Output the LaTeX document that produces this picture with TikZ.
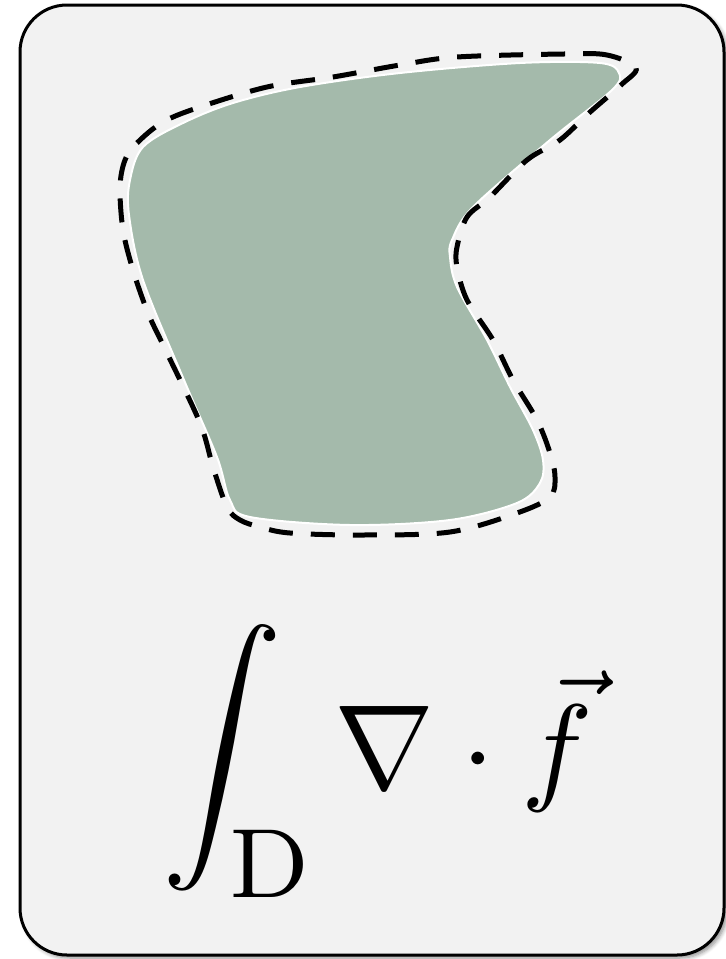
\documentclass[tikz,border=0pt]{standalone}
\usepackage{graphicx}
\usetikzlibrary{shadows.blur}
\definecolor{cardfill}{RGB}{242,242,242}
\definecolor{regiongreen}{RGB}{164,186,171}
\tikzset{
  card/.style={draw=black, line width=1.5pt, fill=cardfill, rounded corners=23.5pt,
    blur shadow={shadow xshift=1.5pt, shadow yshift=-1.5pt, shadow blur steps=6, shadow blur radius=2pt, shadow opacity=45}},
  region/.style={fill=regiongreen, draw=white, line width=1pt},
  boundary/.style={draw=black, line width=2.5pt, dash pattern=on 12pt off 9pt},
  formula/.style={inner sep=0pt, anchor=base west}
}
\begin{document}
\begin{tikzpicture}[x=0.5pt,y=-0.5pt]
\useasboundingbox (0,0) rectangle (726,959);
\path[card] (20,5) rectangle (724,955);
\path[region] plot[smooth cycle, tension=0.55] coordinates {
 (619,73) (600,63) (520,63) (400,73) (300,87) (233,103) (183,123) (143,147) (130,180)
 (129,215) (143,280) (184,380) (217,457) (230,500) (250,517) (350,525) (450,520)
 (517,503) (540,483) (543,460) (533,430) (510,387) (487,340) (457,287) (450,257) (452,240)
 (473,207) (550,140) (612,90)};
\path[boundary] plot[smooth cycle, tension=0.55] coordinates {
 (636,68) (607,55) (564,54) (457,57) (400,65) (333,77) (267,87) (200,107) (163,122)
 (137,143) (125,160) (120,187) (123,230) (133,270) (148,313) (167,353) (200,423) (213,467)
 (227,507) (240,520) (260,527) (290,533) (363,535) (450,532) (517,513) (550,497) (555,477)
 (550,453) (537,420) (513,380) (493,340) (467,300) (457,267) (457,247) (467,217) (490,197)
 (527,160) (560,140) (589,113) (621,85)};
\node[formula] (eq) at (162,788) {\scalebox{6}{$\displaystyle\int_{\hbox{\fontsize{8.2}{9}\selectfont D}}\nabla\cdot\vec{f}$}};
\end{tikzpicture}
\end{document}
